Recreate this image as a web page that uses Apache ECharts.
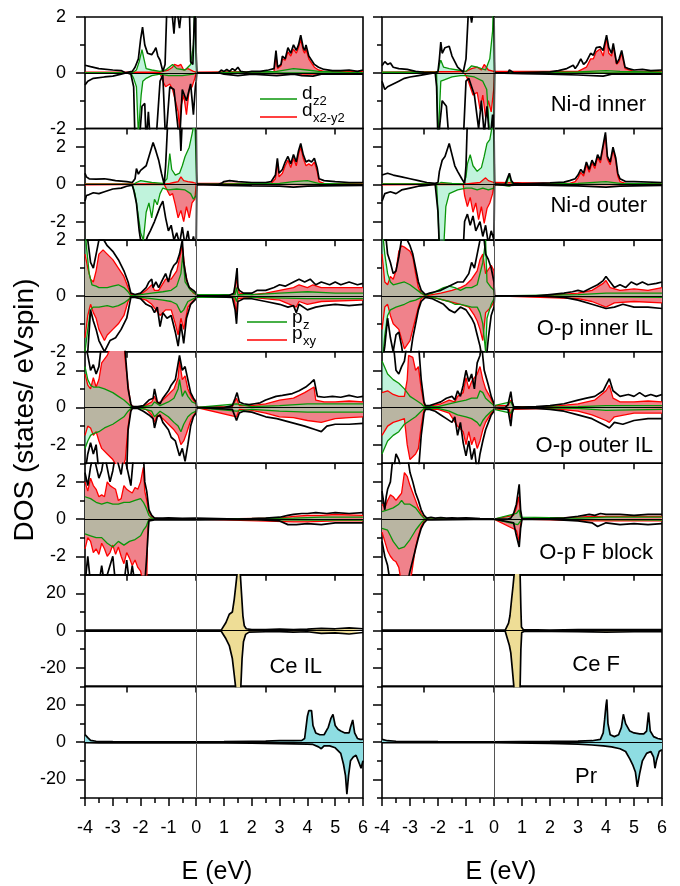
<!DOCTYPE html>
<html>
<head>
<meta charset="utf-8">
<script src="https://cdn.jsdelivr.net/npm/echarts@6/dist/echarts.min.js"></script>
<style>
html,body{margin:0;padding:0;background:#fff}
#dos_echarts{width:680px;height:886px}
</style>
</head>
<body>
<div id="dos_echarts"></div>
<script>
// energy axis / tick values
var eRange = [-4, 6];
var rowTopTicks = [-2.5, 0, 2.5, 5];
var panelLabels = ['Ni-d inner', 'Ni-d outer', 'O-p inner IL', 'O-p outer IL', 'O-p F block', 'Ce F', 'Pr', 'Ce IL'];

// ---- Ni-d inner, left ----
var niInL_totUp = [[-4,0.27],[-3.8,0.22],[-3.5,0.15],[-3,0.1],[-2.7,0.08],[-2.55,0],[-2.3,0.05],[-2.2,0.2],[-2.08,0.5],[-2,1.2],[-1.93,1.64],[-1.85,1],[-1.75,0.7],[-1.6,0.65],[-1.5,0.8],[-1.45,0.9],[-1.38,0.6],[-1.3,0.45],[-1.2,0.05],[-1.12,0.3],[-1.05,2.5],[-0.9,2.5],[-0.8,1.4],[-0.72,2.5],[-0.6,1.6],[-0.5,2.5],[-0.25,2.5],[-0.2,0.4],[-0.12,0.3],[-0.05,2.5],[0,2.5],[0.02,0],[0.8,0],[0.9,0.1],[1,0.05],[1.1,0.12],[1.2,0.05],[1.3,0.15],[1.4,0.08],[1.5,0.2],[1.6,0.05],[1.8,0.02],[2,0.05],[2.3,0.05],[2.6,0.1],[2.8,0.15],[2.87,0.8],[2.93,0.2],[3.05,0.3],[3.1,0.6],[3.2,0.5],[3.3,0.9],[3.4,0.7],[3.5,1],[3.6,0.8],[3.68,1],[3.76,1.35],[3.85,0.9],[3.9,0.8],[3.95,1],[4.05,0.6],[4.15,0.45],[4.25,0.3],[4.4,0.2],[4.6,0.12],[4.9,0.08],[5.2,0.08],[5.5,0.1],[5.8,0.05],[6,0.1]];
var niInL_totDn = [[-4,-0.44],[-3.9,-0.3],[-3.7,-0.2],[-3.3,-0.15],[-3,-0.12],[-2.7,-0.05],[-2.5,0],[-2.35,-0.05],[-2.25,-0.5],[-2.2,-2.5],[-2.05,-2.5],[-1.95,-1.2],[-1.85,-1.1],[-1.8,-2.5],[-1.72,-1.4],[-1.65,-2.5],[-1.45,-2.5],[-1.3,-0.3],[-1.2,-0.08],[-1.1,-2.5],[-0.95,-0.5],[-0.8,-0.6],[-0.6,-2.5],[-0.5,-0.6],[-0.35,-1],[-0.2,-0.4],[-0.1,-1.5],[-0.03,-0.5],[0,-0.3],[0.02,0],[0.8,0],[1,-0.05],[1.5,-0.1],[2,-0.05],[2.9,-0.1],[3.5,-0.05],[3.8,-0.1],[4.2,-0.12],[4.5,-0.05],[6,-0.05]];
var niInL_dxUp = [[-4,0.02],[-1.3,0.02],[-1.2,0.05],[-1,0.1],[-0.85,0.2],[-0.78,0.3],[-0.65,0.25],[-0.55,0.3],[-0.45,0.1],[-0.3,0.15],[-0.1,0.05],[0,0.02],[0.02,0],[2.8,0.05],[2.87,0.6],[2.93,0.15],[3.05,0.25],[3.1,0.5],[3.2,0.45],[3.3,0.75],[3.4,0.6],[3.5,0.85],[3.6,0.7],[3.68,0.9],[3.76,1.2],[3.85,0.8],[3.9,0.7],[3.95,0.85],[4.05,0.5],[4.15,0.35],[4.25,0.2],[4.4,0.1],[4.6,0.05],[6,0.05]];
var niInL_dxDn = [[-4,-0.02],[-1.3,-0.02],[-1.2,-0.3],[-1.1,-0.5],[-0.95,-0.4],[-0.85,-0.6],[-0.75,-1],[-0.65,-1.4],[-0.6,-2],[-0.55,-1.2],[-0.45,-0.8],[-0.35,-1.5],[-0.25,-0.6],[-0.15,-0.5],[-0.05,-0.2],[0,0],[2.8,-0.03],[3.5,-0.05],[4.2,-0.05],[6,-0.02]];
var niInL_dzUp = [[-4,0],[-2.3,0],[-2.15,0.1],[-2.05,0.4],[-1.95,0.83],[-1.88,0.5],[-1.8,0.15],[-1.6,0.1],[-1.3,0.05],[-1.1,0.1],[-0.85,0.3],[-0.7,0.15],[-0.4,0.1],[-0.2,0.3],[-0.1,1],[-0.05,2.5],[0,2.5],[0.02,0],[2.9,0.05],[3.5,0.15],[4,0.1],[4.4,0.05],[6,0]];
var niInL_dzDn = [[-4,0],[-2.35,0],[-2.25,-0.2],[-2.15,-0.5],[-2.08,-2.2],[-1.98,-0.8],[-1.92,-0.3],[-1.8,-0.2],[-1.6,-0.1],[-1.3,-0.05],[-1,-0.1],[-0.5,-0.1],[-0.1,-0.05],[0,0],[6,0]];

// ---- Ni-d inner, right ----
var niInR_totUp = [[-4,0.25],[-3.9,0.4],[-3.8,0.3],[-3.7,0.35],[-3.6,0.2],[-3.4,0.15],[-3.1,0.12],[-2.8,0.05],[-2.5,0.02],[-2.1,0],[-2,0.05],[-1.95,0.5],[-1.9,1.1],[-1.85,0.7],[-1.75,0.9],[-1.6,0.95],[-1.5,0.6],[-1.4,0.4],[-1.3,0.2],[-1.1,0.02],[-1,0.5],[-0.9,2.5],[-0.8,1.8],[-0.7,2.5],[0,2.5],[0.02,0],[0.5,0],[0.55,0.1],[0.6,0.05],[0.7,0],[1.5,0.02],[2,0.03],[2.3,0.08],[2.6,0.15],[2.83,0.27],[2.9,0.15],[3,0.3],[3.1,0.5],[3.2,0.3],[3.3,0.4],[3.45,0.7],[3.55,0.63],[3.65,0.9],[3.79,0.93],[3.9,0.8],[4.02,1.35],[4.1,0.9],[4.2,0.7],[4.26,1.05],[4.38,0.33],[4.47,0.5],[4.56,0.8],[4.68,0.2],[4.8,0.15],[5,0.1],[5.3,0.12],[5.6,0.08],[6,0.1]];
var niInR_totDn = [[-4,-0.3],[-3.9,-0.6],[-3.8,-0.5],[-3.6,-0.4],[-3.4,-0.3],[-3.2,-0.2],[-3,-0.15],[-2.7,-0.1],[-2.4,-0.05],[-2.1,0],[-2.05,-0.5],[-2,-2.5],[-1.95,-2.5],[-1.85,-1],[-1.7,-1.2],[-1.6,-2.5],[-1.1,-2.5],[-1,-0.3],[-0.9,-0.2],[-0.8,-0.5],[-0.7,-0.8],[-0.55,-2],[-0.45,-1],[-0.35,-2.2],[-0.25,-1.2],[-0.15,-2.5],[-0.05,-1.5],[0,-2.5],[0.02,0],[1,-0.03],[2,-0.05],[3,-0.08],[3.9,-0.12],[4.2,-0.05],[5,-0.05],[6,-0.05]];
var niInR_dxUp = [[-4,0.02],[-1,0.05],[-0.8,0.15],[-0.6,0.2],[-0.45,0.1],[-0.35,0.3],[-0.2,0.1],[0,0.05],[0.02,0],[3,0.05],[3.3,0.2],[3.45,0.5],[3.55,0.5],[3.65,0.75],[3.79,0.85],[3.9,0.6],[4.02,1.25],[4.1,0.7],[4.2,0.6],[4.26,0.95],[4.38,0.3],[4.47,0.4],[4.56,0.7],[4.68,0.15],[5,0.05],[6,0.05]];
var niInR_dxDn = [[-4,-0.02],[-1.05,-0.02],[-0.95,-0.2],[-0.85,-0.5],[-0.75,-0.8],[-0.6,-0.7],[-0.5,-1.3],[-0.4,-0.8],[-0.3,-1.6],[-0.2,-1],[-0.1,-1.4],[0,-0.5],[0.02,0],[6,-0.02]];
var niInR_dzUp = [[-4,0.02],[-2,0.02],[-1.95,0.3],[-1.9,0.45],[-1.8,0.2],[-1.6,0.15],[-1.3,0.1],[-1,0.05],[-0.8,0.25],[-0.6,0.2],[-0.3,0.1],[-0.15,0.5],[-0.05,1.5],[-0.02,2.5],[0,2.5],[0.02,0],[3,0.03],[4,0.08],[4.5,0.05],[6,0.02]];
var niInR_dzDn = [[-4,0],[-2.05,0],[-2,-2.5],[-1.95,-2.5],[-1.9,-0.3],[-1.8,-0.26],[-1.5,-0.15],[-1.2,-0.1],[-1,-0.1],[-0.7,-0.15],[-0.4,-0.3],[-0.26,-0.6],[-0.14,-2.5],[0,-2.5],[0.02,0],[6,0]];

// ---- Ni-d outer, left ----
var niOutL_totUp = [[-4,0.6],[-3.95,0.4],[-3.85,0.3],[-3.6,0.28],[-3.3,0.3],[-3.1,0.25],[-2.9,0.2],[-2.5,0.15],[-2.3,0.1],[-2.2,0.3],[-2.15,0.85],[-2.08,0.55],[-2,0.75],[-1.8,1],[-1.7,1.5],[-1.55,2.25],[-1.45,1.8],[-1.35,1.3],[-1.25,0.6],[-1.15,0],[-1.1,1],[-1.02,3.5],[-0.6,3.5],[-0.55,1.8],[-0.5,3.5],[0,3.5],[0.02,0],[0.8,0],[0.9,0.05],[1,0.15],[1.2,0.2],[1.5,0.15],[2,0.1],[2.5,0.1],[2.7,0.15],[2.85,0.5],[2.92,1.4],[2.98,0.6],[3.1,0.8],[3.2,1.2],[3.3,1.5],[3.4,1.1],[3.5,1.6],[3.6,1.2],[3.68,1.8],[3.76,2.2],[3.85,1.6],[3.95,1.2],[4.05,1.3],[4.15,1.2],[4.25,1.4],[4.35,0.9],[4.42,0.3],[4.6,0.2],[5,0.15],[5.5,0.1],[6,0.1]];
var niOutL_totDn = [[-4,-0.9],[-3.95,-0.6],[-3.85,-0.55],[-3.7,-0.45],[-3.5,-0.5],[-3.3,-0.4],[-3,-0.25],[-2.7,-0.2],[-2.5,-0.1],[-2.3,-0.05],[-2.25,-0.3],[-2.15,-1],[-2.05,-2.5],[-1.95,-3.5],[-1.85,-3.2],[-1.75,-2.8],[-1.65,-2.5],[-1.5,-2],[-1.4,-1.6],[-1.3,-1.2],[-1.2,-0.9],[-1.1,-1.8],[-1,-2.5],[-0.9,-2.2],[-0.8,-3],[-0.7,-2.6],[-0.6,-3.2],[-0.5,-2.3],[-0.4,-3.3],[-0.3,-2.5],[-0.2,-3.5],[-0.1,-2.8],[0,-3.5],[0.02,0],[1,-0.05],[2,-0.08],[3,-0.1],[3.5,-0.15],[4,-0.1],[4.5,-0.08],[6,-0.05]];
var niOutL_dxUp = [[-4,0.02],[-1.1,0.02],[-0.95,0.05],[-0.8,0.1],[-0.65,0.15],[-0.55,0.4],[-0.45,0.2],[-0.3,0.15],[-0.1,0.1],[0,0.05],[0.02,0],[2.7,0.05],[2.85,0.3],[2.92,1.2],[2.98,0.4],[3.1,0.6],[3.2,1],[3.3,1.3],[3.4,0.9],[3.5,1.4],[3.6,1],[3.68,1.6],[3.76,2],[3.85,1.4],[3.95,1],[4.05,1.1],[4.15,1],[4.25,1.2],[4.35,0.7],[4.42,0.15],[4.6,0.05],[6,0.03]];
var niOutL_dxDn = [[-4,-0.02],[-1.15,0],[-1.05,-0.3],[-0.95,-0.6],[-0.85,-0.5],[-0.75,-1.1],[-0.65,-1.8],[-0.55,-1.4],[-0.45,-2],[-0.35,-1.2],[-0.25,-1.8],[-0.15,-1],[-0.05,-0.8],[0,0],[6,-0.02]];
var niOutL_dzUp = [[-4,0],[-2.25,0],[-2.15,0.1],[-2,0.2],[-1.6,0.1],[-1.2,0.05],[-1.05,0.3],[-0.95,1.65],[-0.88,0.8],[-0.75,0.5],[-0.6,0.6],[-0.5,1],[-0.4,1.5],[-0.25,2],[-0.15,2.7],[-0.05,3.5],[0,3.5],[0.02,0],[3,0.05],[3.5,0.15],[4,0.2],[4.4,0.05],[6,0]];
var niOutL_dzDn = [[-4,0],[-2.3,0],[-2.2,-0.5],[-2.1,-1.5],[-2,-2.6],[-1.9,-3],[-1.8,-1.5],[-1.7,-1],[-1.6,-1.8],[-1.5,-0.8],[-1.4,-1.1],[-1.3,-0.5],[-1.2,-0.2],[-1,-0.3],[-0.7,-0.25],[-0.4,-0.3],[-0.2,-0.5],[-0.1,-0.8],[0,-0.6],[0.02,0],[6,0]];

// ---- Ni-d outer, right ----
var niOutR_totUp = [[-4,0.5],[-3.8,0.6],[-3.6,0.5],[-3.3,0.4],[-3,0.3],[-2.7,0.2],[-2.4,0.1],[-2.1,0.05],[-2,0.1],[-1.95,0.7],[-1.85,1.3],[-1.75,1.5],[-1.6,2.2],[-1.5,1.6],[-1.4,1],[-1.3,0.7],[-1.15,0.3],[-1.05,0.05],[-1,1],[-0.95,3.5],[0,3.5],[0.02,0],[0.4,0],[0.5,0.4],[0.55,0.6],[0.62,0.2],[0.7,0.05],[1,0.03],[2,0.08],[2.5,0.12],[2.7,0.2],[2.9,0.3],[3,0.5],[3.1,0.8],[3.2,0.6],[3.3,1.2],[3.4,0.8],[3.5,1.3],[3.6,1],[3.7,1.6],[3.8,1.3],[3.98,2.8],[4.05,1.5],[4.15,1.2],[4.25,2],[4.35,1.4],[4.42,0.6],[4.5,0.3],[4.7,0.15],[5,0.15],[6,0.1]];
var niOutR_totDn = [[-4,-0.9],[-3.9,-0.5],[-3.7,-0.4],[-3.5,-0.5],[-3.3,-0.3],[-3,-0.2],[-2.7,-0.1],[-2.4,-0.05],[-2.1,0],[-2,-1.5],[-1.95,-3.5],[-1.1,-3.5],[-1.05,-2],[-0.95,-1.6],[-0.85,-2.2],[-0.75,-1.7],[-0.65,-2.5],[-0.5,-2],[-0.4,-2.8],[-0.3,-2.2],[-0.2,-3.2],[-0.1,-2.5],[0,-3],[0.02,0],[0.5,-0.05],[1,-0.03],[2,-0.05],[3,-0.08],[4,-0.15],[4.5,-0.1],[6,-0.05]];
var niOutR_dxUp = [[-4,0.02],[-1,0.02],[-0.5,0.1],[-0.3,0.35],[-0.2,0.2],[0,0.1],[0.02,0],[2.7,0.05],[2.9,0.15],[3,0.35],[3.1,0.65],[3.2,0.45],[3.3,1.05],[3.4,0.65],[3.5,1.15],[3.6,0.85],[3.7,1.45],[3.8,1.15],[3.98,2.65],[4.05,1.35],[4.15,1.05],[4.25,1.85],[4.35,1.25],[4.42,0.45],[4.5,0.15],[4.7,0.05],[6,0.03]];
var niOutR_dxDn = [[-4,-0.02],[-1.1,0],[-1.05,-0.6],[-0.95,-1.2],[-0.85,-0.7],[-0.75,-1.5],[-0.65,-1],[-0.55,-1.9],[-0.45,-1.2],[-0.35,-2.1],[-0.25,-1.3],[-0.15,-1],[-0.05,-0.5],[0,0],[6,-0.02]];
var niOutR_dzUp = [[-4,0.02],[-2,0.02],[-1.9,0.1],[-1.5,0.05],[-1.1,0.02],[-1,0.4],[-0.95,1.1],[-0.85,1.6],[-0.75,1],[-0.6,0.7],[-0.45,0.9],[-0.35,1.5],[-0.25,2.2],[-0.15,2.4],[-0.08,3],[0,3.5],[0.02,0],[0.45,0],[0.5,0.3],[0.55,0.5],[0.62,0.1],[0.7,0],[3,0.05],[4,0.15],[4.5,0.05],[6,0.02]];
var niOutR_dzDn = [[-4,0],[-2.05,0],[-2,-1.5],[-1.95,-3.5],[-1.8,-3.5],[-1.72,-1.2],[-1.6,-0.5],[-1.3,-0.3],[-1,-0.2],[-0.8,-0.2],[-0.6,-0.3],[-0.4,-0.2],[-0.2,-0.3],[0,-0.2],[0.02,0],[0.55,-0.1],[0.7,0],[6,0]];

// ---- O-p inner IL, left ----
var opInL_totUp = [[-4,3],[-3.9,2],[-3.8,1.2],[-3.7,1],[-3.6,1.5],[-3.5,2],[-3.35,2.05],[-3.2,1.8],[-3,1.6],[-2.8,1.3],[-2.6,0.9],[-2.45,0.5],[-2.35,0.1],[-2.2,0.05],[-2,0.1],[-1.9,0.2],[-1.8,0.3],[-1.7,0.5],[-1.6,0.6],[-1.55,0.3],[-1.45,0.5],[-1.35,0.3],[-1.25,0.5],[-1.1,0.8],[-1,0.5],[-0.9,0.9],[-0.8,1.1],[-0.7,1.2],[-0.6,1.5],[-0.5,2],[-0.45,1.2],[-0.35,0.6],[-0.25,0.3],[-0.1,0.2],[0,0.1],[0.02,0],[0.8,0],[1.2,0.02],[1.35,0.1],[1.4,0.4],[1.47,1],[1.5,0.3],[1.55,0.2],[1.7,0.1],[2,0.1],[2.2,0.2],[2.5,0.2],[2.8,0.3],[3,0.4],[3.2,0.35],[3.5,0.5],[3.7,0.6],[3.9,0.5],[4.1,0.6],[4.3,0.4],[4.5,0.5],[4.8,0.4],[5,0.5],[5.2,0.4],[5.5,0.5],[5.8,0.4],[6,0.45]];
var opInL_totDn = [[-4,-3],[-3.9,-2],[-3.8,-0.5],[-3.7,-0.9],[-3.6,-1.2],[-3.5,-1.6],[-3.4,-1.8],[-3.3,-2],[-3.2,-1.8],[-3.1,-1.6],[-2.9,-1.5],[-2.7,-1.2],[-2.5,-0.8],[-2.4,-0.3],[-2.35,-0.05],[-2.2,-0.05],[-2,-0.1],[-1.8,-0.3],[-1.6,-0.4],[-1.5,-0.6],[-1.4,-0.4],[-1.3,-1.1],[-1.2,-0.6],[-1.05,-0.8],[-0.9,-0.7],[-0.75,-1.3],[-0.65,-1.8],[-0.55,-1],[-0.45,-1.7],[-0.35,-0.8],[-0.2,-0.3],[0,-0.1],[0.02,0],[1.3,-0.05],[1.4,-0.5],[1.45,-1],[1.5,-0.2],[1.7,-0.1],[2,-0.1],[2.5,-0.2],[3,-0.3],[3.3,-0.4],[3.5,-0.35],[3.6,-0.6],[3.7,-0.3],[4,-0.5],[4.3,-0.4],[4.6,-0.35],[5,-0.3],[5.5,-0.35],[6,-0.3]];
var opInL_pxyUp = [[-4,1.5],[-3.9,1],[-3.8,0.6],[-3.7,0.5],[-3.6,0.9],[-3.5,1.5],[-3.35,1.65],[-3.2,1.5],[-3,1.3],[-2.8,1],[-2.6,0.7],[-2.45,0.3],[-2.35,0.05],[-2,0.05],[-1.8,0.2],[-1.6,0.4],[-1.5,0.2],[-1.35,0.2],[-1.1,0.6],[-0.9,0.6],[-0.7,0.9],[-0.5,1.8],[-0.4,0.9],[-0.3,0.4],[-0.1,0.1],[0,0.05],[0.02,0],[1.35,0.05],[1.45,0.6],[1.55,0.1],[2,0.05],[2.5,0.1],[3,0.2],[3.5,0.3],[3.7,0.4],[4,0.3],[4.2,0.4],[4.5,0.3],[5,0.3],[5.5,0.3],[6,0.3]];
var opInL_pxyDn = [[-4,-1.5],[-3.9,-0.7],[-3.8,-0.3],[-3.7,-0.6],[-3.6,-0.8],[-3.5,-1.2],[-3.4,-1.4],[-3.3,-1.6],[-3.2,-1.4],[-3,-1.2],[-2.8,-1],[-2.6,-0.7],[-2.45,-0.2],[-2.35,0],[-1.8,-0.15],[-1.6,-0.3],[-1.3,-0.7],[-1.1,-0.5],[-0.9,-0.5],[-0.75,-1],[-0.65,-1.4],[-0.55,-0.8],[-0.45,-1.2],[-0.3,-0.4],[0,-0.05],[0.02,0],[1.35,-0.05],[1.45,-0.6],[1.5,-0.1],[2,-0.05],[3,-0.15],[3.6,-0.4],[3.7,-0.2],[4,-0.3],[4.5,-0.2],[6,-0.15]];
var opInL_pzUp = [[-4,2.5],[-3.95,1.8],[-3.85,0.8],[-3.75,0.4],[-3.6,0.35],[-3.5,0.3],[-3.2,0.3],[-3,0.35],[-2.8,0.4],[-2.6,0.3],[-2.45,0.15],[-2.35,0],[-2,0.05],[-1.6,0.1],[-1.2,0.15],[-0.9,0.2],[-0.7,0.35],[-0.55,0.8],[-0.48,1.5],[-0.4,0.5],[-0.2,0.2],[0,0.05],[0.02,0],[1.4,0.05],[1.45,0.3],[1.5,0.05],[2,0.05],[3,0.1],[4,0.15],[5,0.1],[6,0.1]];
var opInL_pzDn = [[-4,-2],[-3.9,-1.2],[-3.8,-0.5],[-3.7,-0.4],[-3.5,-0.4],[-3.2,-0.35],[-3,-0.4],[-2.8,-0.35],[-2.6,-0.25],[-2.4,-0.1],[-2.35,0],[-2,-0.05],[-1.6,-0.1],[-1.2,-0.15],[-0.9,-0.2],[-0.7,-0.3],[-0.55,-0.6],[-0.45,-0.5],[-0.3,-0.2],[0,-0.05],[0.02,0],[1.4,-0.05],[1.45,-0.2],[1.5,0],[2,-0.05],[4,-0.1],[6,-0.1]];

// ---- O-p inner IL, right ----
var opInR_totUp = [[-4,2.5],[-3.9,2.5],[-3.8,1.5],[-3.7,1.2],[-3.6,0.8],[-3.5,0.9],[-3.4,1.4],[-3.3,2.05],[-3.1,2],[-3,1.8],[-2.9,1.5],[-2.8,1],[-2.7,0.5],[-2.6,0.2],[-2.45,0.05],[-2.3,0.1],[-2.1,0.15],[-1.9,0.2],[-1.7,0.3],[-1.5,0.4],[-1.3,0.5],[-1.1,0.5],[-0.9,0.8],[-0.8,1.2],[-0.7,1],[-0.6,1.5],[-0.5,2],[-0.4,2.5],[-0.3,1.5],[-0.2,1.3],[-0.1,1],[0,0.5],[0.02,0],[1.5,0],[2,0.05],[2.5,0.1],[2.8,0.15],[3,0.2],[3.2,0.15],[3.5,0.3],[3.7,0.4],[3.9,0.55],[4,0.7],[4.15,0.5],[4.3,0.3],[4.5,0.4],[4.7,0.3],[4.9,0.5],[5.1,0.4],[5.3,0.5],[5.5,0.4],[5.8,0.45],[6,0.5]];
var opInR_totDn = [[-4,-2.5],[-3.9,-1.8],[-3.8,-0.8],[-3.7,-1.5],[-3.6,-2],[-3.5,-1.4],[-3.4,-1.3],[-3.3,-1.8],[-3.2,-2.5],[-3,-2.2],[-2.9,-1.5],[-2.8,-1],[-2.7,-0.5],[-2.6,-0.2],[-2.45,-0.05],[-2.2,-0.1],[-2,-0.2],[-1.8,-0.3],[-1.6,-0.5],[-1.4,-0.6],[-1.2,-0.4],[-1,-0.5],[-0.8,-0.8],[-0.7,-1],[-0.6,-1.4],[-0.5,-1.8],[-0.4,-2.4],[-0.3,-2.5],[-0.2,-1.5],[-0.1,-0.7],[0,-0.4],[0.02,0],[1.5,0],[2.5,-0.05],[3,-0.15],[3.5,-0.3],[4,-0.45],[4.3,-0.4],[4.6,-0.3],[5,-0.4],[5.5,-0.4],[6,-0.45]];
var opInR_pxyUp = [[-4,1.5],[-3.9,0.5],[-3.8,0.4],[-3.7,0.7],[-3.6,0.6],[-3.5,0.9],[-3.4,1.6],[-3.3,1.8],[-3.2,1.75],[-3,1.6],[-2.9,1.4],[-2.8,0.8],[-2.7,0.3],[-2.6,0.1],[-2.45,0],[-1.9,0.1],[-1.5,0.2],[-1.2,0.3],[-1,0.4],[-0.8,0.6],[-0.6,0.9],[-0.5,1.3],[-0.4,1.5],[-0.3,0.8],[-0.1,1.1],[0,0.9],[0.02,0],[2,0.02],[3,0.1],[3.5,0.2],[3.9,0.45],[4,0.55],[4.15,0.3],[4.5,0.2],[5,0.25],[5.5,0.2],[6,0.3]];
var opInR_pxyDn = [[-4,-1.2],[-3.9,-0.4],[-3.8,-0.3],[-3.7,-0.7],[-3.6,-1],[-3.4,-1.2],[-3.2,-1.9],[-3,-1.6],[-2.9,-1.2],[-2.8,-0.8],[-2.7,-0.4],[-2.6,-0.1],[-2.45,0],[-2,-0.1],[-1.6,-0.2],[-1.2,-0.3],[-0.9,-0.4],[-0.7,-0.7],[-0.6,-0.9],[-0.5,-1.2],[-0.4,-1.6],[-0.3,-0.6],[-0.1,-0.4],[0,-0.2],[0.02,0],[3,-0.1],[3.5,-0.2],[4,-0.4],[4.3,-0.25],[5,-0.2],[6,-0.25]];
var opInR_pzUp = [[-4,2.5],[-3.9,1.5],[-3.8,0.8],[-3.7,0.5],[-3.6,0.4],[-3.4,0.45],[-3.2,0.5],[-3,0.4],[-2.8,0.25],[-2.6,0.1],[-2.45,0.03],[-2.2,0.1],[-2,0.2],[-1.8,0.3],[-1.6,0.35],[-1.4,0.3],[-1.2,0.2],[-1,0.3],[-0.8,0.3],[-0.6,0.4],[-0.4,1.2],[-0.3,2],[-0.25,0.5],[-0.1,0.3],[0,0.2],[0.02,0],[3,0.05],[4,0.1],[5,0.1],[6,0.1]];
var opInR_pzDn = [[-4,-2.5],[-3.9,-1.4],[-3.8,-0.7],[-3.7,-0.5],[-3.5,-0.4],[-3.2,-0.3],[-3,-0.2],[-2.8,-0.15],[-2.6,-0.05],[-2.45,0],[-2.2,-0.05],[-2,-0.1],[-1.8,-0.15],[-1.6,-0.2],[-1.4,-0.3],[-1.2,-0.3],[-1,-0.35],[-0.8,-0.4],[-0.6,-0.4],[-0.5,-0.6],[-0.4,-1],[-0.3,-2],[-0.25,-0.8],[-0.1,-0.3],[0,-0.1],[0.02,0],[6,-0.05]];

// ---- O-p outer IL, left ----
var opOutL_totUp = [[-4,3.5],[-3.9,2.8],[-3.8,2],[-3.7,2.3],[-3.6,1.8],[-3.5,2.2],[-3.4,3.5],[-2.58,3.5],[-2.45,1],[-2.35,0.2],[-2.3,0.05],[-2.1,0.05],[-1.9,0.1],[-1.7,0.4],[-1.55,0.5],[-1.5,1],[-1.4,0.3],[-1.3,0.2],[-1.2,0.5],[-1,0.9],[-0.9,1.2],[-0.75,1.5],[-0.6,2.8],[-0.5,2],[-0.4,2.2],[-0.3,1.5],[-0.2,0.8],[-0.1,0.5],[0,0.3],[0.02,0],[1,0],[1.3,0.1],[1.4,0.5],[1.47,0.8],[1.55,0.3],[1.7,0.2],[1.9,0.15],[2.1,0.2],[2.3,0.25],[2.5,0.4],[2.87,0.6],[3.1,0.65],[3.46,0.75],[3.7,0.9],[3.94,1.1],[4.1,1.3],[4.24,1.5],[4.36,0.6],[4.6,0.55],[4.9,0.6],[5.2,0.55],[5.5,0.65],[5.8,0.55],[6,0.6]];
var opOutL_totDn = [[-4,-3.5],[-3.9,-2.5],[-3.8,-1.9],[-3.7,-2.5],[-3.6,-2],[-3.5,-3.5],[-2.5,-3.5],[-2.45,-1.2],[-2.35,-0.2],[-2.3,-0.05],[-2.1,-0.05],[-1.9,-0.2],[-1.7,-0.4],[-1.55,-0.6],[-1.5,-1.1],[-1.4,-0.5],[-1.3,-0.4],[-1.2,-0.8],[-1,-1.2],[-0.9,-1.6],[-0.75,-1.8],[-0.6,-2.6],[-0.5,-2.2],[-0.4,-2.9],[-0.3,-2],[-0.2,-1],[-0.1,-0.5],[0,-0.3],[0.02,0],[1.3,-0.1],[1.45,-0.7],[1.55,-0.3],[1.7,-0.2],[2,-0.25],[2.5,-0.5],[2.9,-0.6],[3.4,-0.8],[3.9,-1],[4.3,-1.2],[4.5,-1.3],[4.7,-1],[5,-0.9],[5.5,-0.9],[6,-0.85]];
var opOutL_pxyUp = [[-4,1.8],[-3.9,1.2],[-3.8,1],[-3.7,1.6],[-3.6,1.1],[-3.5,1.5],[-3.4,2.4],[-3.2,2.8],[-3,3.5],[-2.6,3.5],[-2.55,2.5],[-2.45,1.2],[-2.35,0.1],[-2.2,0.03],[-1.9,0.05],[-1.6,0.3],[-1.5,0.6],[-1.4,0.2],[-1.2,0.4],[-1,0.7],[-0.8,1],[-0.65,1.6],[-0.6,2.5],[-0.5,1.5],[-0.4,1.7],[-0.3,1],[-0.15,0.5],[0,0.2],[0.02,0],[1.3,0.05],[1.45,0.5],[1.55,0.1],[2,0.1],[2.5,0.2],[3,0.4],[3.5,0.5],[3.9,0.8],[4.24,1.1],[4.3,0.4],[4.6,0.3],[5,0.3],[5.5,0.35],[6,0.3]];
var opOutL_pxyDn = [[-4,-1.5],[-3.9,-1],[-3.8,-1.1],[-3.7,-1.5],[-3.6,-1.3],[-3.5,-1.8],[-3.4,-2.2],[-3.2,-2.5],[-3,-2.8],[-2.7,-3.5],[-2.55,-2.8],[-2.45,-1],[-2.35,-0.1],[-2.2,0],[-1.8,-0.1],[-1.6,-0.4],[-1.5,-0.8],[-1.4,-0.4],[-1.2,-0.6],[-1,-0.9],[-0.8,-1.2],[-0.65,-1.5],[-0.55,-2],[-0.45,-1.8],[-0.35,-1.4],[-0.2,-0.7],[0,-0.2],[0.02,0],[1.45,-0.5],[1.55,-0.1],[2,-0.15],[2.5,-0.3],[3,-0.5],[3.5,-0.55],[4,-0.7],[4.5,-0.8],[5,-0.6],[5.5,-0.55],[6,-0.5]];
var opOutL_pzUp = [[-4,2.2],[-3.9,1.5],[-3.8,1.2],[-3.7,1.1],[-3.5,1.1],[-3.3,1],[-3,0.8],[-2.8,0.6],[-2.6,0.4],[-2.45,0.2],[-2.35,0.05],[-2,0.03],[-1.6,0.1],[-1.5,0.3],[-1.3,0.1],[-1,0.3],[-0.8,0.5],[-0.65,1],[-0.6,1.5],[-0.5,0.6],[-0.4,0.9],[-0.3,0.6],[-0.15,0.3],[0,0.2],[0.02,0],[1.45,0.2],[2,0.05],[3,0.1],[4,0.2],[5,0.2],[6,0.2]];
var opOutL_pzDn = [[-4,-2.2],[-3.9,-1.8],[-3.8,-1.5],[-3.7,-1.4],[-3.5,-1.3],[-3.3,-1.1],[-3,-0.9],[-2.8,-0.7],[-2.6,-0.5],[-2.45,-0.2],[-2.35,-0.05],[-2,-0.03],[-1.6,-0.2],[-1.5,-0.5],[-1.3,-0.2],[-1,-0.5],[-0.8,-0.8],[-0.65,-1],[-0.55,-1.3],[-0.45,-0.9],[-0.3,-0.5],[-0.15,-0.3],[0,-0.2],[0.02,0],[1.45,-0.2],[2,-0.1],[3,-0.2],[4,-0.25],[5,-0.25],[6,-0.25]];

// ---- O-p outer IL, right ----
var opOutR_totUp = [[-4,3.5],[-3.6,3.5],[-3.5,2],[-3.4,1.8],[-3.3,2.2],[-3.2,2.5],[-3.1,3.5],[-2.7,3.5],[-2.6,1.5],[-2.5,0.3],[-2.45,0.1],[-2.3,0.1],[-2.1,0.2],[-1.9,0.3],[-1.7,0.5],[-1.5,0.6],[-1.4,0.4],[-1.3,0.9],[-1.2,0.6],[-1.1,1.2],[-1,2],[-0.9,1.4],[-0.8,1.8],[-0.7,1],[-0.6,2.4],[-0.5,2.8],[-0.45,3.5],[-0.35,2],[-0.2,1.2],[-0.1,0.6],[0,0.2],[0.02,0],[0.4,0],[0.5,0.15],[0.6,0.85],[0.65,0.3],[0.7,0.05],[1,0.02],[1.5,0.05],[2,0.1],[2.5,0.2],[3,0.4],[3.3,0.5],[3.6,0.6],[3.9,0.9],[4,1.2],[4.12,1.55],[4.25,0.9],[4.5,0.6],[4.8,0.7],[5,0.6],[5.2,0.8],[5.4,0.6],[5.6,0.7],[5.8,0.6],[6,0.7]];
var opOutR_totDn = [[-4,-3.5],[-3.6,-3.5],[-3.5,-2.5],[-3.4,-2.8],[-3.3,-3.5],[-2.7,-3.5],[-2.6,-1.5],[-2.5,-0.3],[-2.45,-0.1],[-2.3,-0.1],[-2.1,-0.2],[-1.9,-0.4],[-1.7,-0.6],[-1.5,-0.8],[-1.4,-0.5],[-1.3,-1.5],[-1.2,-0.8],[-1.1,-1.9],[-1,-2.6],[-0.9,-1.8],[-0.8,-2.8],[-0.7,-2.2],[-0.6,-3.5],[-0.5,-2.5],[-0.4,-1.8],[-0.3,-1.2],[-0.2,-0.8],[-0.1,-0.4],[0,-0.2],[0.02,0],[0.5,-0.1],[0.6,-1],[0.65,-0.3],[0.7,-0.05],[1.5,-0.05],[2,-0.1],[2.5,-0.2],[3,-0.4],[3.5,-0.6],[4,-1],[4.12,-1.1],[4.3,-0.8],[4.6,-0.9],[5,-0.7],[5.5,-0.6],[6,-0.6]];
var opOutR_pxyUp = [[-4,0.8],[-3.8,0.9],[-3.6,0.7],[-3.4,0.6],[-3.2,0.6],[-3.1,1.5],[-3.05,2.8],[-2.9,2.7],[-2.8,2],[-2.7,2.2],[-2.6,1],[-2.5,0.2],[-2.45,0.05],[-2.2,0.1],[-1.9,0.2],[-1.6,0.4],[-1.4,0.3],[-1.3,0.6],[-1.1,0.8],[-1,1.6],[-0.9,1],[-0.8,1.4],[-0.6,1.8],[-0.5,2.2],[-0.4,1.5],[-0.3,1],[-0.15,0.6],[0,0.1],[0.02,0],[0.5,0.1],[0.6,0.4],[0.7,0.05],[2,0.05],[3,0.2],[3.6,0.4],[4,0.9],[4.12,1.2],[4.25,0.5],[4.5,0.3],[5,0.3],[5.5,0.35],[6,0.3]];
var opOutR_pxyDn = [[-4,-1.5],[-3.8,-1],[-3.6,-0.8],[-3.4,-0.7],[-3.2,-0.6],[-3.1,-2],[-3,-2.8],[-2.8,-2.5],[-2.7,-2.2],[-2.6,-1],[-2.5,-0.1],[-2.45,0],[-2,-0.1],[-1.6,-0.3],[-1.3,-1],[-1.1,-1.3],[-1,-2],[-0.9,-1.3],[-0.8,-2],[-0.7,-1.6],[-0.6,-2.2],[-0.5,-1.8],[-0.4,-1.2],[-0.3,-0.8],[-0.1,-0.3],[0,-0.1],[0.02,0],[0.55,-0.1],[0.6,-0.6],[0.65,-0.1],[2,-0.05],[3,-0.2],[3.5,-0.4],[4,-0.7],[4.12,-0.8],[4.3,-0.5],[5,-0.3],[6,-0.3]];
var opOutR_pzUp = [[-4,2.5],[-3.8,1.8],[-3.6,1.5],[-3.4,1.3],[-3.2,1],[-3,0.6],[-2.8,0.4],[-2.6,0.2],[-2.5,0.05],[-2,0.05],[-1.6,0.2],[-1.3,0.3],[-1,0.4],[-0.8,0.5],[-0.6,0.5],[-0.5,0.9],[-0.4,0.8],[-0.3,0.5],[-0.15,0.3],[0,0.1],[0.02,0],[0.6,0.3],[0.7,0],[3,0.05],[4,0.1],[5,0.1],[6,0.1]];
var opOutR_pzDn = [[-4,-2.5],[-3.8,-1.8],[-3.6,-1.5],[-3.4,-1.3],[-3.2,-0.9],[-3,-0.7],[-2.8,-0.5],[-2.6,-0.2],[-2.5,-0.05],[-2,-0.05],[-1.6,-0.2],[-1.3,-0.4],[-1,-0.5],[-0.8,-0.6],[-0.6,-0.8],[-0.5,-1],[-0.4,-0.7],[-0.3,-0.5],[-0.1,-0.2],[0,-0.1],[0.02,0],[0.6,-0.3],[0.7,0],[3,-0.05],[4,-0.15],[6,-0.1]];

// ---- O-p F block, left ----
var opFL_totUp = [[-4,2.5],[-3.9,1.8],[-3.8,2.8],[-3.7,3.5],[-3.5,2.2],[-3.4,2.6],[-3.3,3.5],[-3.1,2],[-3,2.6],[-2.9,3.5],[-2.7,2.4],[-2.6,3.5],[-2.45,2.5],[-2.35,1.8],[-2.25,3.5],[-1.9,3.5],[-1.85,2],[-1.78,1.5],[-1.7,0.5],[-1.6,0.2],[-1.5,0.05],[-1.2,0.05],[-1,0.06],[-0.5,0.04],[0,0.05],[0.02,0],[1.5,0],[2,0.02],[2.5,0.05],[3,0.1],[3.3,0.2],[3.5,0.25],[3.8,0.3],[4,0.3],[4.3,0.35],[4.7,0.3],[5,0.35],[5.5,0.3],[6,0.35]];
var opFL_totDn = [[-4,-3.5],[-3.9,-2],[-3.8,-3.5],[-3.5,-3.5],[-3.4,-2.5],[-3.3,-3.5],[-3,-2],[-2.9,-3.5],[-2.6,-3.5],[-2.5,-2.2],[-2.4,-3.5],[-2.3,-2.5],[-2.2,-3.5],[-1.85,-3.5],[-1.78,-2],[-1.72,-0.5],[-1.7,-0.1],[-1.5,-0.05],[0,-0.05],[0.02,0],[2,-0.02],[3,-0.1],[3.3,-0.3],[3.6,-0.3],[4,-0.25],[4.5,-0.3],[5,-0.2],[6,-0.2]];
var opFL_pxyUp = [[-4,2],[-3.9,1.5],[-3.8,2.2],[-3.7,1.8],[-3.6,1.6],[-3.5,1.2],[-3.4,1.3],[-3.3,1.2],[-3.2,2],[-3.1,1.8],[-3,1.7],[-2.9,1.6],[-2.8,1],[-2.7,1.1],[-2.6,1.8],[-2.5,1.6],[-2.45,1.7],[-2.4,1.5],[-2.3,1.4],[-2.2,1.7],[-2.1,1.6],[-2,2],[-1.9,2.8],[-1.85,1.5],[-1.78,1],[-1.7,0.4],[-1.6,0.15],[-1.5,0.05],[-1.2,0],[0,0],[3,0.05],[3.5,0.15],[4,0.2],[4.5,0.2],[5,0.25],[6,0.2]];
var opFL_pxyDn = [[-4,-1.6],[-3.9,-1],[-3.8,-1.2],[-3.7,-1.8],[-3.6,-1.6],[-3.5,-1.9],[-3.4,-1.3],[-3.3,-1.6],[-3.2,-2],[-3.1,-1.8],[-3,-1.4],[-2.9,-1.9],[-2.8,-1.5],[-2.7,-2],[-2.6,-2.4],[-2.5,-1.8],[-2.4,-2.1],[-2.3,-2.5],[-2.2,-2.2],[-2.1,-2.6],[-2,-2.8],[-1.9,-3.5],[-1.78,-3.5],[-1.75,-1],[-1.72,-0.2],[-1.7,0],[0,0],[3.5,-0.15],[4,-0.15],[5,-0.1],[6,-0.1]];
var opFL_pzUp = [[-4,1.2],[-3.8,1.1],[-3.6,0.9],[-3.4,0.8],[-3.2,0.9],[-3,0.8],[-2.8,0.8],[-2.6,0.9],[-2.4,0.9],[-2.2,1],[-2,1.1],[-1.9,0.9],[-1.8,0.6],[-1.7,0.2],[-1.6,0.05],[-1.5,0],[0,0],[3.5,0.05],[4.5,0.1],[6,0.1]];
var opFL_pzDn = [[-4,-0.8],[-3.8,-0.9],[-3.6,-1],[-3.4,-1],[-3.2,-1.3],[-3,-1.5],[-2.8,-1.2],[-2.6,-1.4],[-2.4,-1.2],[-2.2,-1.1],[-2,-0.9],[-1.9,-0.6],[-1.8,-0.4],[-1.75,-0.2],[-1.7,0],[0,0],[4,-0.05],[6,-0.05]];

// ---- O-p F block, right ----
var opFR_totUp = [[-4,1.5],[-3.95,1],[-3.9,0.5],[-3.85,1.2],[-3.8,1.6],[-3.7,2],[-3.6,3.5],[-3.1,3.5],[-3,2.5],[-2.9,2],[-2.8,1.4],[-2.7,1],[-2.6,0.5],[-2.5,0.2],[-2.4,0.05],[-2.25,0.1],[-2.1,0.05],[-1.9,0.08],[-1.7,0.05],[-1.5,0.06],[-1.3,0.05],[-1,0.06],[-0.8,0.05],[-0.5,0.02],[0,0],[0.5,0],[0.6,0.05],[0.7,0.3],[0.8,0.8],[0.9,1.87],[0.95,0.5],[1,0.02],[1.5,0],[2,0.02],[2.5,0.05],[3,0.15],[3.2,0.2],[3.4,0.25],[3.6,0.2],[3.8,0.3],[4,0.25],[4.5,0.25],[5,0.2],[5.5,0.25],[6,0.25]];
var opFR_totDn = [[-4,-1.2],[-3.9,-2],[-3.8,-2.5],[-3.7,-3.5],[-3.1,-3.5],[-3,-2.8],[-2.9,-2.2],[-2.8,-1.6],[-2.7,-1],[-2.6,-0.5],[-2.5,-0.2],[-2.4,-0.05],[-2.2,-0.05],[0,0],[0.7,-0.2],[0.8,-0.9],[0.9,-1.5],[0.95,-0.5],[1,0],[2,-0.02],[3,-0.1],[3.5,-0.2],[3.7,-0.4],[4,-0.2],[4.5,-0.3],[5,-0.25],[5.5,-0.3],[6,-0.25]];
var opFR_pxyUp = [[-4,0.8],[-3.9,0.6],[-3.8,1],[-3.7,1.3],[-3.6,1.2],[-3.5,1],[-3.4,1.2],[-3.3,1.4],[-3.2,2.5],[-3.1,2.3],[-3,1.8],[-2.9,1.4],[-2.8,1],[-2.7,0.6],[-2.6,0.3],[-2.5,0.05],[-2.4,0],[0,0],[0.7,0.2],[0.8,0.6],[0.88,1.2],[0.95,0.3],[1,0],[3,0.1],[3.5,0.15],[4,0.15],[5,0.15],[6,0.15]];
var opFR_pxyDn = [[-4,-0.7],[-3.9,-1.2],[-3.8,-1.7],[-3.7,-2],[-3.6,-2.2],[-3.5,-2.3],[-3.4,-2.6],[-3.3,-3.5],[-3,-3.5],[-2.9,-2.5],[-2.8,-1.5],[-2.7,-0.9],[-2.6,-0.4],[-2.5,-0.1],[-2.4,0],[0,0],[0.8,-0.6],[0.9,-1.2],[0.95,-0.3],[1,0],[3.5,-0.1],[4,-0.1],[6,-0.1]];
var opFR_pzUp = [[-4,0.4],[-3.8,0.5],[-3.6,0.6],[-3.4,0.8],[-3.3,1],[-3.2,0.8],[-3,0.8],[-2.8,0.6],[-2.7,0.4],[-2.6,0.2],[-2.5,0.05],[-2.4,0],[0,0],[0.8,0.3],[0.9,0.5],[0.95,0.1],[1,0],[3,0.05],[4,0.1],[6,0.1]];
var opFR_pzDn = [[-4,-0.5],[-3.8,-0.6],[-3.7,-0.9],[-3.6,-1.2],[-3.4,-1.6],[-3.2,-1.5],[-3,-1.1],[-2.8,-0.6],[-2.7,-0.4],[-2.6,-0.2],[-2.5,-0.05],[-2.4,0],[0,0],[0.85,-0.3],[0.9,-0.4],[1,0],[6,-0.05]];

// ---- Ce f (IL / F block) ----
var ceIL_up = [[-4,0.3],[0.9,0.3],[0.96,0.8],[1.07,4.4],[1.19,8.8],[1.3,10],[1.37,17],[1.43,25],[1.48,32],[1.58,32],[1.63,20],[1.68,8],[1.73,2.6],[1.8,1],[2,0.5],[2.5,0.6],[3,0.8],[3.5,0.5],[4,0.8],[4.5,1.2],[5,1],[5.5,1.5],[6,1]];
var ceIL_dn = [[-4,-0.3],[0.9,-0.3],[0.96,-0.8],[1.07,-4.4],[1.19,-8],[1.3,-15],[1.37,-24],[1.43,-32],[1.6,-32],[1.65,-15],[1.7,-6],[1.78,-2],[1.9,-0.8],[2.5,-0.6],[3,-0.5],[3.5,-0.8],[4,-0.6],[4.5,-1.5],[5,-1.2],[5.5,-1.8],[6,-1]];
var ceF_up = [[-4,0.3],[0.4,0.3],[0.45,1],[0.52,4],[0.57,8],[0.63,17],[0.68,24],[0.73,32],[0.93,32],[0.96,12],[0.98,2],[1.05,0.5],[2,0.3],[3,0.5],[4,0.5],[5,0.6],[6,0.5]];
var ceF_dn = [[-4,-0.3],[0.4,-0.3],[0.45,-1],[0.55,-8],[0.6,-12],[0.65,-20],[0.72,-32],[0.93,-32],[0.96,-10],[0.99,-1],[1.1,-0.3],[3,-0.5],[4,-0.8],[5,-0.6],[6,-0.5]];

// ---- Pr f ----
var prL_up = [[-4,4.1],[-3.9,2.5],[-3.8,1],[-3.6,0.5],[-3,0.3],[-2,0.2],[0,0.2],[1,0.3],[2,0.5],[2.5,0.6],[3,0.8],[3.5,0.8],[3.8,1],[3.9,2],[3.95,8],[4,14],[4.05,17],[4.15,17],[4.2,9],[4.3,5],[4.45,4],[4.6,4],[4.75,8],[4.85,13],[4.92,15],[5,9],[5.1,7],[5.2,6],[5.35,5],[5.5,5],[5.55,8],[5.63,12],[5.7,5],[5.8,2],[5.9,1.5],[6,1.5]];
var prL_dn = [[-4,-0.3],[-3.5,-0.4],[0,-0.3],[2,-0.5],[3,-0.8],[4,-1],[4.2,-1.2],[4.4,-2.5],[4.5,-3.5],[4.6,-2],[4.8,-2],[5,-3],[5.2,-6],[5.3,-12],[5.37,-18],[5.42,-28],[5.48,-18],[5.55,-10],[5.65,-8],[5.75,-7],[5.8,-8],[5.88,-12],[5.93,-14],[6,-10]];
var prR_up = [[-4,1.5],[-3.8,0.8],[-3.5,0.5],[-2,0.3],[0,0.2],[2,0.4],[3,0.6],[3.5,0.8],[3.8,1.5],[3.9,5],[3.95,12],[4,20],[4.03,23],[4.07,10],[4.15,4],[4.3,3],[4.45,4],[4.55,8],[4.62,15],[4.7,10],[4.85,6],[5,5],[5.2,4.5],[5.35,4.5],[5.45,6],[5.52,16],[5.58,6],[5.7,3],[5.85,2],[6,1.5]];
var prR_dn = [[-4,-0.3],[0,-0.3],[2,-0.6],[3,-1],[3.5,-1.5],[3.9,-2],[4.2,-2.5],[4.5,-3.5],[4.7,-5],[4.85,-9],[4.95,-12],[5.05,-16],[5.12,-24],[5.2,-17],[5.3,-10],[5.45,-6],[5.6,-5],[5.7,-8],[5.75,-14],[5.8,-10],[5.9,-5],[6,-4]];

// --- layout ---
var FONT = 'Arial, "Liberation Sans", sans-serif';
var GL = [85, 382], GW = [278, 280], TOP = 17, RH = 111.57;
var RED = '#ff0000', GREEN = '#0a960a', RED_FILL = '#f0828b', GREEN_FILL = 'rgba(130,232,185,0.5)';
var yScales = {
	d2: {min: -2, max: 2, major: [-2, 0, 2], minor: [-1, 1]},
	d3: {min: -3, max: 3, major: [-2, 0, 2], minor: [-3, -1, 1, 3]},
	d30: {min: -30, max: 30, major: [-20, 0, 20], minor: [-30, -10, 10, 30]}
};

var panels = [
	[0, 0, 'd2', [niInL_dxUp, niInL_dxDn, niInL_dzUp, niInL_dzDn, niInL_totUp, niInL_totDn]],
	[0, 1, 'd2', [niInR_dxUp, niInR_dxDn, niInR_dzUp, niInR_dzDn, niInR_totUp, niInR_totDn]],
	[1, 0, 'd3', [niOutL_dxUp, niOutL_dxDn, niOutL_dzUp, niOutL_dzDn, niOutL_totUp, niOutL_totDn]],
	[1, 1, 'd3', [niOutR_dxUp, niOutR_dxDn, niOutR_dzUp, niOutR_dzDn, niOutR_totUp, niOutR_totDn]],
	[2, 0, 'd2', [opInL_pxyUp, opInL_pxyDn, opInL_pzUp, opInL_pzDn, opInL_totUp, opInL_totDn]],
	[2, 1, 'd2', [opInR_pxyUp, opInR_pxyDn, opInR_pzUp, opInR_pzDn, opInR_totUp, opInR_totDn]],
	[3, 0, 'd3', [opOutL_pxyUp, opOutL_pxyDn, opOutL_pzUp, opOutL_pzDn, opOutL_totUp, opOutL_totDn]],
	[3, 1, 'd3', [opOutR_pxyUp, opOutR_pxyDn, opOutR_pzUp, opOutR_pzDn, opOutR_totUp, opOutR_totDn]],
	[4, 0, 'd3', [opFL_pxyUp, opFL_pxyDn, opFL_pzUp, opFL_pzDn, opFL_totUp, opFL_totDn]],
	[4, 1, 'd3', [opFR_pxyUp, opFR_pxyDn, opFR_pzUp, opFR_pzDn, opFR_totUp, opFR_totDn]],
	[5, 0, 'd30', [ceIL_up, ceIL_dn], '#eedd96'],
	[5, 1, 'd30', [ceF_up, ceF_dn], '#eedd96'],
	[6, 0, 'd30', [prL_up, prL_dn], '#8edde2'],
	[6, 1, 'd30', [prR_up, prR_dn], '#8edde2']
];

var grids = [], xAxes = [], yAxes = [], series = [];

function lineSeries(g, data, color, width, fill) {
	var s = {
		type: 'line', xAxisIndex: g, yAxisIndex: 2 * g, data: data,
		symbol: 'none', showSymbol: false, silent: true, animation: false,
		lineStyle: {color: color, width: width}
	};
	if (fill) s.areaStyle = {color: fill, opacity: 1};
	return s;
}

panels.forEach(function (p, g) {
	var row = p[0], col = p[1], sc = yScales[p[2]], curves = p[3];
	var last = row === 6;
	grids.push({
		left: GL[col], top: TOP + row * RH, width: GW[col], height: RH,
		show: true, borderColor: '#000', borderWidth: 1.6, backgroundColor: 'transparent'
	});
	var xa = {
		type: 'value', gridIndex: g, min: eRange[0], max: eRange[1], position: 'bottom',
		axisLine: {show: false, onZero: false},
		splitLine: {show: false},
		axisTick: {customValues: rowTopTicks, length: 6, lineStyle: {color: '#000', width: 1.5}},
		axisLabel: {show: false}
	};
	if (last) {
		xa.interval = 1;
		xa.axisTick = {length: 8, lineStyle: {color: '#000', width: 1.5}};
		xa.minorTick = {show: true, splitNumber: 2, length: 5, lineStyle: {color: '#000', width: 1.5}};
		xa.axisLabel = {show: true, fontSize: 18, fontFamily: FONT, color: '#000', margin: 21};
	}
	xAxes.push(xa);
	// major ticks (+ labels on the left column)
	yAxes.push({
		type: 'value', gridIndex: g, min: sc.min, max: sc.max, position: 'left',
		axisLine: {show: false, onZero: false},
		splitLine: {show: false},
		axisTick: {customValues: sc.major, length: 9, lineStyle: {color: '#000', width: 1.5}},
		axisLabel: {show: col === 0, customValues: sc.major, fontSize: 18, fontFamily: FONT, color: '#000', margin: 19}
	});
	// minor ticks
	yAxes.push({
		type: 'value', gridIndex: g, min: sc.min, max: sc.max, position: 'left', offset: 0,
		axisLine: {show: false, onZero: false},
		splitLine: {show: false},
		axisTick: {customValues: sc.minor, length: 5, lineStyle: {color: '#000', width: 1.5}},
		axisLabel: {show: false}
	});

	var list;
	if (curves.length === 6) {
		list = [
			lineSeries(g, curves[0], RED, 1.3, RED_FILL),
			lineSeries(g, curves[1], RED, 1.3, RED_FILL),
			lineSeries(g, curves[2], GREEN, 1.3, GREEN_FILL),
			lineSeries(g, curves[3], GREEN, 1.3, GREEN_FILL),
			lineSeries(g, curves[4], '#000', 1.7),
			lineSeries(g, curves[5], '#000', 1.7)
		];
	} else {
		list = [
			lineSeries(g, curves[0], '#000', 1.7, p[4]),
			lineSeries(g, curves[1], '#000', 1.7, p[4])
		];
	}
	list[list.length - 1].markLine = {
		silent: true, symbol: 'none', animation: false, label: {show: false},
		data: [
			{xAxis: 0, lineStyle: {color: '#555', width: 1, type: 'solid'}},
			{yAxis: 0, lineStyle: {color: '#000', width: 1, type: 'solid'}}
		]
	};
	series = series.concat(list);
});

function txt(x, y, text, size, align, extra) {
	var t = {
		type: 'text', x: x, y: y, silent: true,
		style: {text: text, font: size + 'px ' + FONT, fill: '#000',
			align: align, textAlign: align, verticalAlign: 'middle', textVerticalAlign: 'middle'}
	};
	if (extra) for (var k in extra) t[k] = extra[k];
	return t;
}
function seg(x1, x2, y, color) {
	return {type: 'line', silent: true, shape: {x1: x1, y1: y, x2: x2, y2: y}, style: {stroke: color, lineWidth: 1.5}};
}

var graphics = [
	txt(646, 105, panelLabels[0], 22, 'right'),
	txt(647, 206, panelLabels[1], 22, 'right'),
	txt(653, 329, panelLabels[2], 22, 'right'),
	txt(653, 446, panelLabels[3], 22, 'right'),
	txt(653, 553, panelLabels[4], 22, 'right'),
	txt(620, 665, panelLabels[5], 22, 'right'),
	txt(597, 777, panelLabels[6], 22, 'right'),
	txt(322, 667, panelLabels[7], 22, 'right'),
	// legend d orbitals
	seg(260, 297, 99, GREEN), seg(260, 297, 117, RED),
	txt(302, 94, 'd', 19, 'left'), txt(313, 101, 'z2', 13, 'left'),
	txt(302, 111, 'd', 19, 'left'), txt(313, 118, 'x2-y2', 13, 'left'),
	// legend p orbitals
	seg(247, 287, 322, GREEN), seg(247, 287, 340, RED),
	txt(292, 318, 'p', 19, 'left'), txt(303, 325, 'z', 13, 'left'),
	txt(292, 334, 'p', 19, 'left'), txt(303, 341, 'xy', 13, 'left'),
	// axis titles
	txt(217, 872, 'E (eV)', 25, 'center'),
	txt(501, 872, 'E (eV)', 25, 'center'),
	txt(25, 410, 'DOS (states/ eVspin)', 28, 'center', {rotation: Math.PI / 2})
];

var myChart = echarts.init(document.getElementById('dos_echarts'));
var option = {
	animation: false,
	backgroundColor: '#fff',
	grid: grids,
	xAxis: xAxes,
	yAxis: yAxes,
	series: series,
	graphic: graphics
};
myChart.setOption(option, true);
</script>
</body>
</html>
